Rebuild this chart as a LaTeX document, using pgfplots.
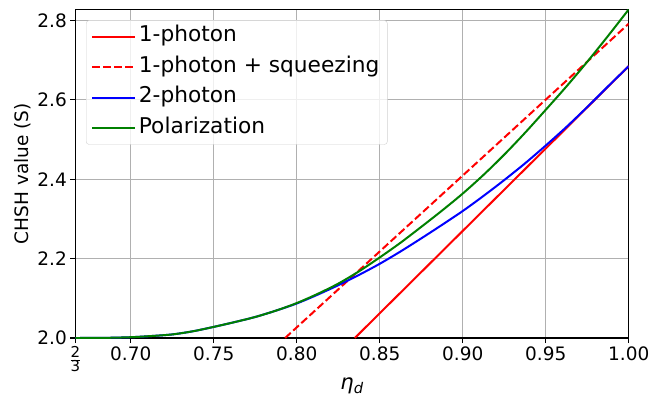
\documentclass[border=0pt]{standalone}
\usepackage{pgfplots}
\pgfplotsset{compat=1.18}
\usepackage{fontspec}
\setmainfont{DejaVu Sans}

\pgfplotstableread{
x y
0.835 2.0
1.0 2.685
}\onephoton
\pgfplotstableread{
x y
0.793 2.0
1.0 2.792
}\onesq
\pgfplotstableread{
x y
0.666667 2.0
0.6833 2.0003
0.70 2.002
0.7125 2.005
0.725 2.009
0.7375 2.017
0.75 2.028
0.7625 2.040
0.775 2.053
0.7875 2.069
0.80 2.087
0.8125 2.109
0.825 2.133
0.8375 2.159
0.85 2.187
0.8625 2.218
0.875 2.251
0.8875 2.285
0.90 2.320
0.9125 2.358
0.925 2.398
0.9375 2.440
0.95 2.485
0.9625 2.532
0.975 2.582
0.9875 2.634
1.0 2.685
}\twophoton
\pgfplotstableread{
x y
0.666667 2.0
0.6833 2.0003
0.70 2.002
0.7125 2.005
0.725 2.009
0.7375 2.017
0.75 2.028
0.7625 2.040
0.775 2.053
0.7875 2.069
0.80 2.088
0.8125 2.111
0.825 2.137
0.8375 2.168
0.85 2.203
0.8625 2.240
0.875 2.280
0.8875 2.321
0.90 2.364
0.9125 2.411
0.925 2.462
0.9375 2.517
0.95 2.575
0.9625 2.634
0.975 2.696
0.9875 2.761
1.0 2.828
}\polar

\begin{document}
\begin{tikzpicture}
\begin{axis}[
  scale only axis,
  width=553.3pt, height=328.7pt,
  xmin=0.666667, xmax=1.0, ymin=2.0, ymax=2.8284,
  xtick={0.666667,0.70,0.75,0.80,0.85,0.90,0.95,1.00},
  xticklabels={$\frac{\hbox{\fontsize{15}{15}\selectfont 2}}{\hbox{\fontsize{15}{15}\selectfont 3}}$,0.70,0.75,0.80,0.85,0.90,0.95,1.00},
  ytick={2.0,2.2,2.4,2.6,2.8},
  yticklabels={2.0,2.2,2.4,2.6,2.8},
  tick label style={font=\fontsize{18.5}{21}\selectfont},
  grid=major,
  grid style={color=black!31, line width=1.1pt},
  axis line style={line width=1.1pt, black},
  every tick/.style={black, line width=1.1pt},
  tick align=outside, tick pos=left, major tick length=5pt,
  xlabel={\itshape η\textsubscript{d}},
  xlabel style={font=\fontsize{21}{24}\selectfont, yshift=1pt},
  ylabel={CHSH value (S)},
  ylabel style={font=\fontsize{18.5}{21}\selectfont, yshift=0pt},
  legend cell align=left,
  legend style={at={(0.0192,0.9666)}, anchor=north west,
    font=\fontsize{21.7}{26}\selectfont,
    draw=black!18, rounded corners=3pt, fill=white, fill opacity=0.8, text opacity=1,
    inner xsep=5pt, inner ysep=3pt, row sep=4pt,
    nodes={inner sep=3pt, text depth=5pt, text height=15.5pt}},
  legend image code/.code={\draw[#1] (0pt,0pt) -- (42.7pt,0pt);},
]
\addplot[red, line width=2pt] table {\onephoton};
\addlegendentry{1-photon}
\addplot[red, line width=2pt, dash pattern=on 7.7pt off 3.3pt] table {\onesq};
\addlegendentry{1-photon + squeezing}
\addplot[blue, line width=2pt, smooth] table {\twophoton};
\addlegendentry{2-photon}
\addplot[green!50!black, line width=2pt, smooth] table {\polar};
\addlegendentry{Polarization}
\coordinate (ll) at (rel axis cs:0,0);
\coordinate (ur) at (rel axis cs:1,1);
\end{axis}
\pgfresetboundingbox
\path[use as bounding box] ([shift={(-75.4pt,-59.3pt)}]ll) rectangle ([shift={(35.3pt,9.3pt)}]ur);
\end{tikzpicture}
\end{document}
